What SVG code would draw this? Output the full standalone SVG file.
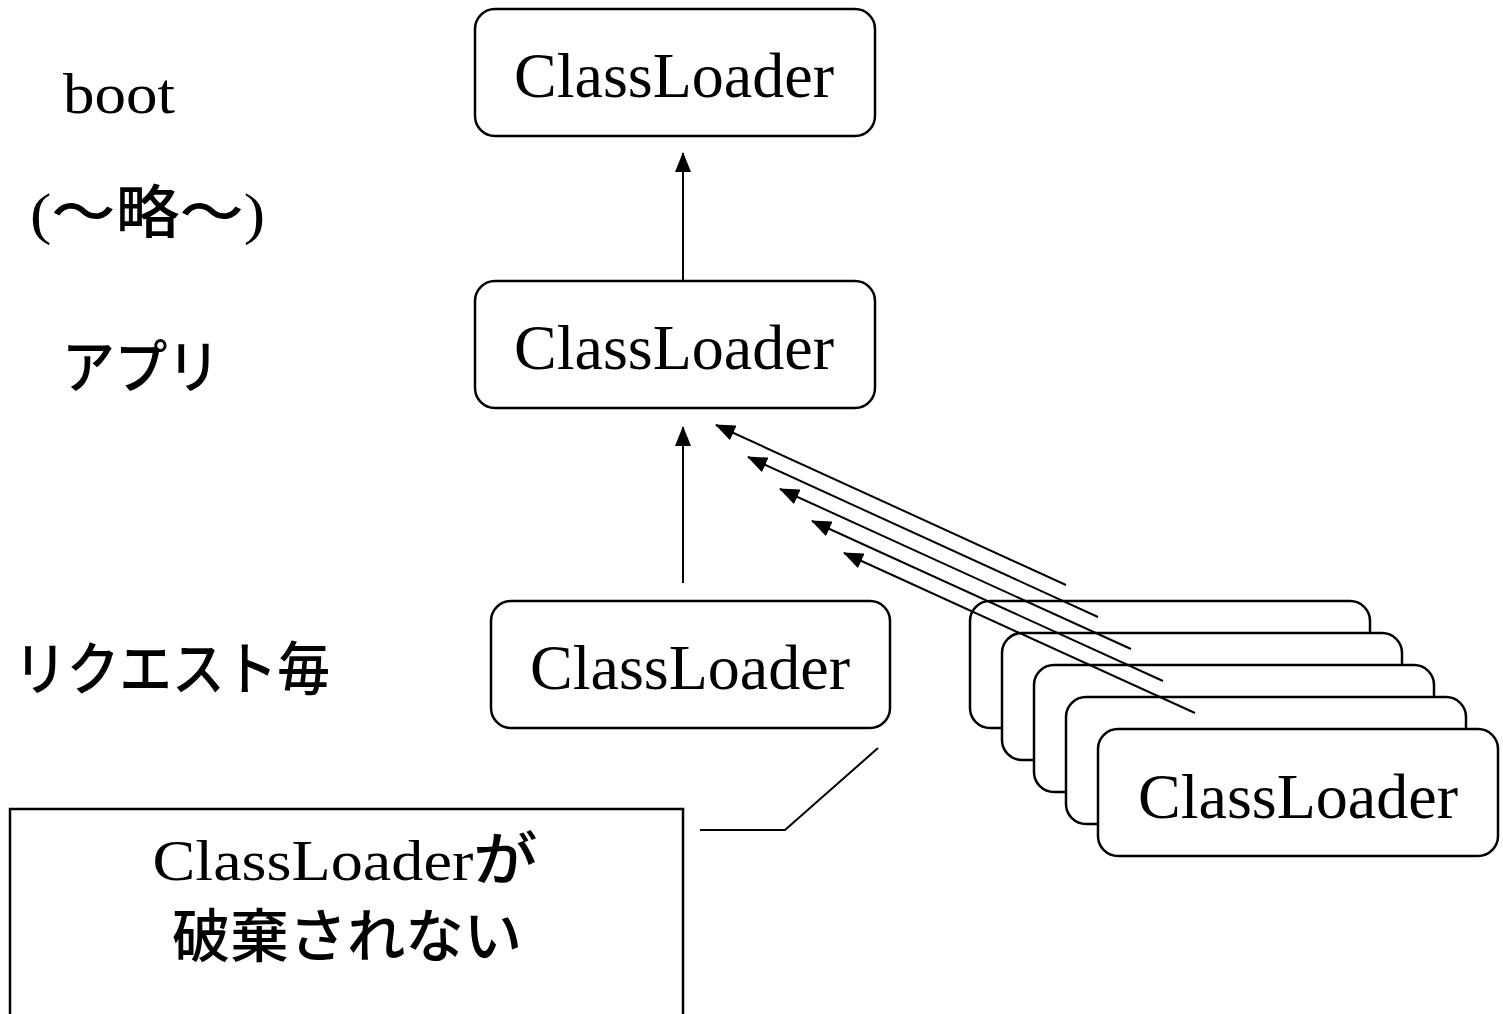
<svg xmlns="http://www.w3.org/2000/svg" width="1503" height="1014" viewBox="0 0 1503 1014">
<defs>
<style>
.box{fill:#fff;stroke:#000;stroke-width:2.5}
.cl{font-family:"Liberation Serif","Times New Roman",serif;font-size:64px;fill:#000;text-anchor:middle}
.jp{font-family:"Liberation Serif","Noto Sans CJK JP",serif;font-size:58px;fill:#000}
.gj{font-family:"Noto Sans CJK JP",sans-serif;font-weight:500}
.ln{stroke:#000;stroke-width:2;fill:none}
</style>
<marker id="ah" viewBox="0 0 20 16" refX="19" refY="8" markerWidth="20" markerHeight="16" markerUnits="userSpaceOnUse" orient="auto">
<path d="M0,0 L20,8 L0,16 z" fill="#000"/>
</marker>
</defs>
<rect width="1503" height="1014" fill="#fff"/>

<g id="labels">
<text class="jp" x="63" y="113" font-size="64" textLength="112" lengthAdjust="spacingAndGlyphs">boot</text>
<text class="jp" x="30" y="233" font-size="62" textLength="235" lengthAdjust="spacingAndGlyphs">(<tspan class="gj">〜略〜</tspan>)</text>
<text class="jp gj" x="62" y="388" font-size="60" textLength="158" lengthAdjust="spacingAndGlyphs">アプリ</text>
<text class="jp gj" x="14" y="690" font-size="60" textLength="316" lengthAdjust="spacingAndGlyphs">リクエスト毎</text>
</g>

<g id="node-boot">
<rect class="box" x="475" y="9" width="400" height="127" rx="20"/>
<text class="cl" x="674" y="97">ClassLoader</text>
</g>
<g id="node-app">
<rect class="box" x="475" y="281" width="400" height="127" rx="20"/>
<text class="cl" x="674" y="369">ClassLoader</text>
</g>
<g id="node-req">
<rect class="box" x="491" y="601" width="399" height="127" rx="20"/>
<text class="cl" x="690" y="689">ClassLoader</text>
</g>

<g id="node-stack">
<rect class="box" x="970" y="601" width="400" height="127" rx="20"/>
<rect class="box" x="1002" y="633" width="400" height="127" rx="20"/>
<rect class="box" x="1034" y="665" width="400" height="127" rx="20"/>
<rect class="box" x="1066" y="697" width="400" height="127" rx="20"/>
</g>

<g id="connectors">
<line class="ln" x1="683" y1="280" x2="683" y2="153" marker-end="url(#ah)"/>
<line class="ln" x1="683" y1="583" x2="683" y2="427" marker-end="url(#ah)"/>
<line class="ln" x1="1066" y1="585" x2="716" y2="425" marker-end="url(#ah)"/>
<line class="ln" x1="1098" y1="617" x2="748" y2="457" marker-end="url(#ah)"/>
<line class="ln" x1="1131" y1="649" x2="780" y2="489" marker-end="url(#ah)"/>
<line class="ln" x1="1163" y1="681" x2="812" y2="521" marker-end="url(#ah)"/>
<line class="ln" x1="1195" y1="713" x2="844" y2="553" marker-end="url(#ah)"/>
<polyline class="ln" points="700,830 785,830 878,748"/>
</g>

<g id="node-front">
<rect class="box" x="1098" y="729" width="400" height="127" rx="20"/>
<text class="cl" x="1298" y="818">ClassLoader</text>
</g>

<g id="node-note">
<rect class="box" x="10" y="809" width="673" height="240"/>
<text class="jp" x="345" y="880" font-size="62" text-anchor="middle" textLength="385" lengthAdjust="spacingAndGlyphs">ClassLoader<tspan class="gj">が</tspan></text>
<text class="jp gj" x="347" y="957" font-size="60" text-anchor="middle" textLength="350" lengthAdjust="spacingAndGlyphs">破棄されない</text>
</g>
</svg>
